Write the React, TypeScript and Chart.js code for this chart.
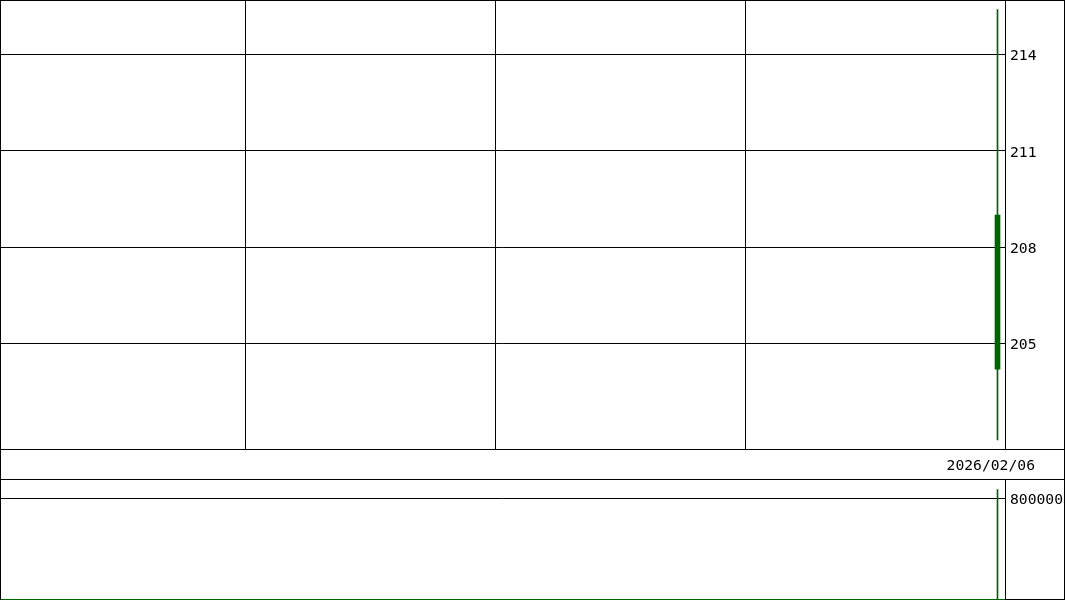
import React, { useEffect, useRef } from 'react';
import { Chart, registerables } from 'chart.js';

Chart.register(...registerables);

// price candle (single session)
const candleX = [199.5];
const candleOpen = [204.2];
const candleClose = [209.0];
const candleHigh = [215.4];
const candleLow = [202.0];
const volumes = [870000];
const dates = ['2026/02/06'];

const priceTicks = [205, 208, 211, 214];
const volumeTicks = [800000];
const xGridTicks = [49, 99, 149];

const GREEN = 'rgb(0,100,0)';
const FONT = { family: '"DejaVu Sans Mono", monospace', size: 14.7 };

const noPad = (scale: any) => {
  scale.paddingTop = 0;
  scale.paddingBottom = 0;
  scale.paddingLeft = 0;
  scale.paddingRight = 0;
};
const fixWidth = (w: number) => (scale: any) => { scale.width = w; noPad(scale); };
const fixHeight = (h: number) => (scale: any) => { scale.height = h; noPad(scale); };

function PriceChart() {
  const ref = useRef<HTMLCanvasElement>(null);
  useEffect(() => {
    if (!ref.current) return;
    const chart = new Chart(ref.current, {
      type: 'bar',
      data: {
        datasets: [
          {
            data: candleX.map((x, i) => ({ x, y: [candleLow[i], candleHigh[i]] })) as any,
            backgroundColor: GREEN,
            barThickness: 1,
            grouped: false,
            order: 2,
          },
          {
            data: candleX.map((x, i) => ({ x, y: [candleOpen[i], candleClose[i]] })) as any,
            backgroundColor: GREEN,
            barThickness: 5,
            grouped: false,
            order: 1,
          },
        ],
      },
      options: {
        animation: false,
        responsive: true,
        maintainAspectRatio: false,
        layout: { padding: 0 },
        plugins: { legend: { display: false }, tooltip: { enabled: false } },
        scales: {
          x: {
            type: 'linear',
            min: 0,
            max: 201,
            offset: false,
            afterBuildTicks: (s: any) => { s.ticks = xGridTicks.map(v => ({ value: v })); },
            afterFit: fixHeight(1),
            ticks: { display: false },
            grid: { color: '#000', drawTicks: false, offset: false },
            border: { display: false },
          },
          y: {
            position: 'right',
            min: 201.714,
            max: 215.697,
            afterBuildTicks: (s: any) => { s.ticks = priceTicks.map(v => ({ value: v })); },
            afterFit: fixWidth(60),
            ticks: { color: '#000', font: FONT, padding: 5, labelOffset: 2, callback: (v: any) => String(v) },
            grid: { color: '#000', drawTicks: false },
            border: { color: '#000' },
          },
        },
      },
    });
    return () => chart.destroy();
  }, []);
  return <canvas ref={ref} />;
}

function VolumeChart() {
  const ref = useRef<HTMLCanvasElement>(null);
  useEffect(() => {
    if (!ref.current) return;
    const chart = new Chart(ref.current, {
      type: 'bar',
      data: {
        datasets: [
          {
            data: candleX.map((x, i) => ({ x, y: volumes[i] })) as any,
            backgroundColor: GREEN,
            barThickness: 1,
          },
        ],
      },
      options: {
        animation: false,
        responsive: true,
        maintainAspectRatio: false,
        layout: { padding: 0 },
        plugins: { legend: { display: false }, tooltip: { enabled: false } },
        scales: {
          x: {
            type: 'linear',
            min: 0,
            max: 201,
            offset: false,
            afterBuildTicks: (s: any) => { s.ticks = []; },
            afterFit: fixHeight(1),
            ticks: { display: false },
            grid: { display: false, offset: false },
            border: { color: GREEN, dash: [2, 3] },
          },
          y: {
            position: 'right',
            min: 0,
            max: 946000,
            afterBuildTicks: (s: any) => { s.ticks = volumeTicks.map(v => ({ value: v })); },
            afterFit: fixWidth(60),
            ticks: { color: '#000', font: FONT, padding: 5, labelOffset: 2, callback: (v: any) => String(v) },
            grid: { color: '#000', drawTicks: false },
            border: { color: '#000' },
          },
        },
      },
    });
    return () => chart.destroy();
  }, []);
  return <canvas ref={ref} />;
}

export default function App() {
  return (
    <div style={{ position: 'relative', width: 1065, height: 600, background: '#fff', overflow: 'hidden' }}>
      <style>{'body{margin:0}'}</style>
      <div style={{ position: 'absolute', left: 0, top: 0, width: 1065, height: 450 }}>
        <PriceChart />
      </div>
      <div
        style={{
          position: 'absolute',
          left: 0,
          top: 449,
          width: 1065,
          height: 31,
          boxSizing: 'border-box',
          borderTop: '1px solid #000',
          borderBottom: '1px solid #000',
          fontFamily: FONT.family,
          fontSize: FONT.size,
          lineHeight: '29px',
          textAlign: 'right',
          paddingRight: 30,
          color: '#000',
        }}
      >
        {dates[dates.length - 1]}
      </div>
      <div style={{ position: 'absolute', left: 0, top: 480, width: 1065, height: 120 }}>
        <VolumeChart />
      </div>
      <div
        style={{
          position: 'absolute',
          left: 0,
          top: 0,
          width: 1065,
          height: 600,
          boxSizing: 'border-box',
          borderTop: '1px solid #000',
          borderLeft: '1px solid #000',
          borderRight: '1px solid #000',
          pointerEvents: 'none',
        }}
      />
      <div style={{ position: 'absolute', left: 1005, top: 599, width: 60, height: 1, background: '#000' }} />
    </div>
  );
}
